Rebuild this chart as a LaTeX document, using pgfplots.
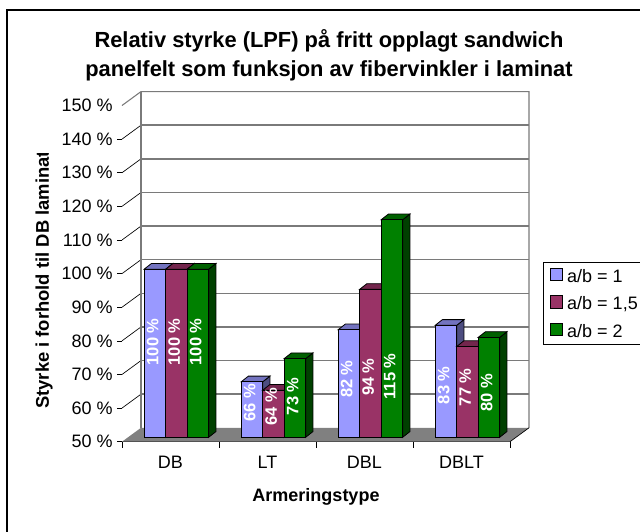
\documentclass[border=0pt]{standalone}
\usepackage{pgfplots}
\pgfplotsset{compat=1.18}
\usepackage{fontspec}
\setmainfont{Liberation Sans}
\definecolor{sA}{HTML}{9999FF}\definecolor{sAt}{HTML}{7373BF}\definecolor{sAs}{HTML}{4D4D80}
\definecolor{sB}{HTML}{993366}\definecolor{sBt}{HTML}{73264D}\definecolor{sBs}{HTML}{4D1A33}
\definecolor{sC}{HTML}{008000}\definecolor{sCt}{HTML}{006000}\definecolor{sCs}{HTML}{004000}
\definecolor{wallg}{HTML}{7A7A7A}
\newcommand\gl[1]{%
  \pgfmathsetmacro\yy{#1+4.14}%
  \addplot[forget plot,wallg,line width=1.1pt] coordinates {(0.196,\yy)(4.196,\yy)};%
  \addplot[forget plot,black,line width=0.5pt] coordinates {(0,#1)(0.196,\yy)};%
}
% side and top faces of a bar: cluster centre, series index (-1,0,1), value, colours
\newcommand\faces[5]{%
  \pgfmathsetmacro\xa{#1+#2*0.2216+0.1108}%
  \pgfmathsetmacro\xb{\xa+0.075}%
  \pgfmathsetmacro\xc{\xa-0.2216}%
  \pgfmathsetmacro\xd{\xc+0.075}%
  \pgfmathsetmacro\yt{#3+1.7}%
  \pgfmathsetmacro\yb{51.7}%
  \addplot[forget plot,fill=#5,draw=black,line width=0.6pt] coordinates {(\xa,50)(\xb,\yb)(\xb,\yt)(\xa,#3)} --cycle;%
  \addplot[forget plot,fill=#4,draw=black,line width=0.6pt] coordinates {(\xc,#3)(\xd,\yt)(\xb,\yt)(\xa,#3)} --cycle;%
}
\newcommand\lab[3]{\node[rotate=90,text=white,font=\bfseries\fontsize{12.4pt}{14pt}\selectfont,inner sep=0pt] at (axis cs:#1,#2) {#3\ \%};}
\newcommand\swatch[1]{\draw[fill=#1,draw=black,line width=0.5pt] (0pt,-3.5pt) rectangle (9.4pt,5.9pt); \path (12.4pt,0pt);}
\pgfplotsset{
  common/.style={scale only axis,width=291pt,height=252.15pt,xmin=0,xmax=4,ymin=50,ymax=150,clip=false},
}
\begin{document}
\begin{tikzpicture}[x=0.75pt,y=-0.75pt]
\useasboundingbox (0,0) rectangle (640,532);
\draw[black,line width=0.9pt] (7,532) -- (7,10) -- (640,10);
% walls and floor
\begin{axis}[common,at={(91.5pt,-331.275pt)},anchor=south west,
  axis x line*=bottom,axis y line*=left,
  axis line style={black,line width=0.6pt,-},
  xtick={0.5,1.5,2.5,3.5},xticklabels={DB,LT,DBL,DBLT},
  major x tick style={draw=none},
  minor xtick={0,1,2,3,4},
  minor tick length=4.5pt,
  minor x tick style={black,line width=0.5pt},
  ytick={50,60,...,140},
  yticklabels={50 \%,60 \%,70 \%,80 \%,90 \%,100 \%,110 \%,120 \%,130 \%,140 \%},
  extra y ticks={150},extra y tick labels={150 \%},
  extra y tick style={major tick length=3.5pt,tick style={draw=none}},
  major tick length=3.5pt,
  y tick style={black,line width=0.5pt},
  tick align=outside,
  tick label style={font=\fontsize{13.5pt}{15pt}\selectfont},
  xticklabel style={yshift=-4pt},
]
\addplot[forget plot,fill=white,draw=none] coordinates {(0,50)(0.196,54.14)(0.196,154.14)(0,150)} --cycle;
\addplot[forget plot,fill=white,draw=none] coordinates {(0.196,54.14)(4.196,54.14)(4.196,154.14)(0.196,154.14)} --cycle;
\gl{60}\gl{70}\gl{80}\gl{90}\gl{100}\gl{110}\gl{120}\gl{130}\gl{140}
\addplot[forget plot,wallg,line width=0.8pt] coordinates {(0,150)(0.196,154.14)(4.196,154.14)(4.196,54.14)};
\addplot[forget plot,wallg,line width=1.1pt] coordinates {(0.196,54.14)(0.196,154.14)};
\addplot[forget plot,fill=gray,draw=none] coordinates {(0,50)(4,50)(4.196,54.14)(0.196,54.14)} --cycle;
\addplot[forget plot,black,line width=0.5pt] coordinates {(4,50)(4.196,54.14)};
\end{axis}
% bars
\begin{axis}[common,at={(95.925pt,-327.975pt)},anchor=south west,
  axis lines=none,
  legend cell align=left,
  legend style={at={(1.0699,0.5214)},anchor=north west,draw=black,line width=0.6pt,
    font=\fontsize{13.5pt}{15pt}\selectfont,inner xsep=4.9pt,inner ysep=3.5pt,
    nodes={inner sep=0pt,text height=11.5pt,text depth=2pt},
    row sep=7.1pt},
]
\faces{0.5}{-1}{100}{sAt}{sAs}\faces{1.5}{-1}{66.5}{sAt}{sAs}\faces{2.5}{-1}{82}{sAt}{sAs}\faces{3.5}{-1}{83.3}{sAt}{sAs}
\addplot[ybar,bar width=16.1pt,bar shift=-16.1pt,fill=sA,draw=black,line width=0.6pt,
  legend image code/.code={\swatch{sA}}]
  coordinates {(0.5,100)(1.5,66.5)(2.5,82)(3.5,83.3)};
\faces{0.5}{0}{100}{sBt}{sBs}\faces{1.5}{0}{64}{sBt}{sBs}\faces{2.5}{0}{94}{sBt}{sBs}\faces{3.5}{0}{77}{sBt}{sBs}
\addplot[ybar,bar width=16.1pt,bar shift=0pt,fill=sB,draw=black,line width=0.6pt,
  legend image code/.code={\swatch{sB}}]
  coordinates {(0.5,100)(1.5,64)(2.5,94)(3.5,77)};
\faces{0.5}{1}{100}{sCt}{sCs}\faces{1.5}{1}{73.4}{sCt}{sCs}\faces{2.5}{1}{114.7}{sCt}{sCs}\faces{3.5}{1}{79.7}{sCt}{sCs}
\addplot[ybar,bar width=16.1pt,bar shift=16.1pt,fill=sC,draw=black,line width=0.6pt,
  legend image code/.code={\swatch{sC}}]
  coordinates {(0.5,100)(1.5,73.4)(2.5,114.7)(3.5,79.7)};
\legend{\makebox[68pt][l]{a/b = 1},\makebox[68pt][l]{a/b = 1,5},\makebox[68pt][l]{a/b = 2}}
\lab{0.256}{78.4}{100}\lab{0.478}{78.4}{100}\lab{0.70}{78.4}{100}
\lab{1.256}{60.2}{66}\lab{1.478}{59.2}{64}\lab{1.70}{62.2}{73}
\lab{2.256}{67.3}{82}\lab{2.478}{67.9}{94}\lab{2.70}{68.1}{115}
\lab{3.256}{65.5}{83}\lab{3.478}{64.9}{77}\lab{3.70}{63.2}{80}
\end{axis}
\node[font=\bfseries\fontsize{16.4pt}{21.8pt}\selectfont,align=center] at (329,55.4) {Relativ styrke (LPF) på fritt opplagt sandwich\\panelfelt som funksjon av fibervinkler i laminat};
\node[font=\bfseries\fontsize{13.5pt}{14pt}\selectfont] at (316,497) {Armeringstype};
\begin{scope}
\clip (30,153) rectangle (60,420);
\node[font=\bfseries\fontsize{13.8pt}{14pt}\selectfont,rotate=90,anchor=west,inner sep=0pt] at (44,409) {Styrke i forhold til DB laminat};
\end{scope}
\end{tikzpicture}
\end{document}
